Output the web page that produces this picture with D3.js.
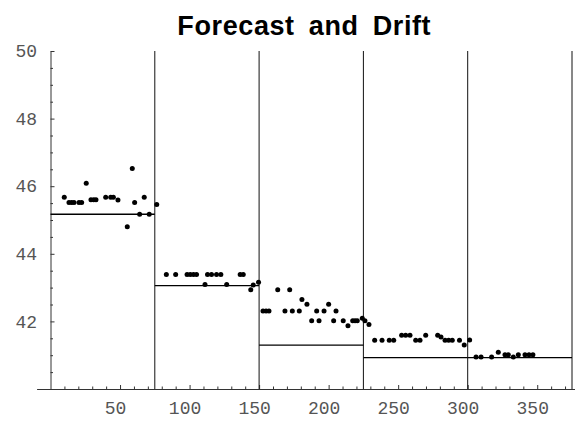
<!DOCTYPE html>
<html>
<head>
<meta charset="utf-8">
<script src="https://cdn.jsdelivr.net/npm/d3@7"></script>
<style>
  html, body { margin: 0; padding: 0; background: #fff; }
  svg { display: block; }
</style>
</head>
<body>
<svg id="chart" width="575" height="423"></svg>
<script>
// ---- data ----
const titleText = "Forecast and Drift";

// observed values: [x, value]
const segment1Points = [
  [9.9,45.67],[13.3,45.52],[15.2,45.52],[16.9,45.52],[20.5,45.52],[22.4,45.52],
  [25.7,46.09],[29.1,45.60],[31.1,45.60],[32.7,45.60],[39.7,45.67],[43.3,45.67],
  [45.2,45.67],[48.5,45.59],[55.2,44.80],[58.8,46.52],[60.5,45.52],[64.1,45.17],
  [67.4,45.67],[71.0,45.17],[76.4,45.46]
];
const segment2Points = [
  [83.3,43.39],[90.0,43.39],[98.2,43.39],[100.5,43.39],[102.8,43.39],[105.0,43.39],
  [111.1,43.09],[112.9,43.39],[115.8,43.39],[119.4,43.39],[122.5,43.39],[126.7,43.09],
  [136.4,43.39],[138.6,43.39],[144.0,42.94],[145.8,43.08],[149.6,43.16]
];
const segment3Points = [
  [152.8,42.31],[155.0,42.31],[157.1,42.31],[163.4,42.94],[168.6,42.31],[172.0,42.94],
  [173.9,42.31],[178.9,42.31],[180.8,42.65],[184.4,42.51],[187.8,42.02],[191.4,42.31],
  [193.1,42.02],[196.7,42.31],[200.0,42.51],[203.6,42.02],[205.3,42.31],[210.5,42.02],
  [213.9,41.87],[217.3,42.02],[219.0,42.02],[220.6,42.02],[224.2,42.09],[226.1,42.02],
  [229.0,41.91]
];
const segment4Points = [
  [233.1,41.44],[238.4,41.44],[243.6,41.44],[246.8,41.44],[252.5,41.59],[255.4,41.59],
  [258.5,41.59],[262.6,41.44],[265.7,41.44],[269.8,41.59],[278.4,41.59],[280.8,41.54],
  [283.7,41.44],[286.3,41.44],[288.9,41.44],[294.1,41.44],[297.5,41.30],[301.4,41.45]
];
const segment5Points = [
  [306.0,40.95],[309.6,40.95],[317.2,40.95],[322.0,41.09],[326.8,41.01],[329.2,41.01],
  [332.8,40.95],[336.4,41.01],[341.2,41.01],[344.1,41.01],[346.9,41.01]
];

// forecast levels per period: [start, end, level]
const forecastStarts = [0, 75, 150, 225, 300];
const forecastEnds   = [75, 150, 225, 300, 375];
const forecastLevels = [45.17, 43.06, 41.30, 40.93, 40.93];

// period boundaries (vertical lines)
const boundaries = [75, 150, 225, 300, 375];

// ticks
const xMajorTicks = [50, 100, 150, 200, 250, 300, 350];
const xMinorTicks = [10,20,30,40,60,70,80,90,110,120,130,140,160,170,180,190,210,220,230,240,260,270,280,290,310,320,330,340,360,370];
const yMajorTicks = [42, 44, 46, 48, 50];
const yMinorTicks = [40.5,41,41.5,42.5,43,43.5,44.5,45,45.5,46.5,47,47.5,48.5,49,49.5];

// ---- drawing ----
const svg = d3.select("#chart");
const x = d3.scaleLinear().domain([0, 375]).range([50.5, 572]);
const y = d3.scaleLinear().domain([40, 50]).range([389, 51]);
const xAxisScale = x.copy().domain([-10, 377]).range([x(-10), x(377)]);

const axisColor = "#333";
const labelFont = "'Liberation Mono', 'DejaVu Sans Mono', monospace";

// title
svg.append("text")
  .attr("x", (x(-10) + x(375)) / 2)
  .attr("y", 35)
  .attr("text-anchor", "middle")
  .attr("font-family", "'Liberation Sans', Arial, sans-serif")
  .attr("font-weight", "bold")
  .attr("font-size", 27)
  .attr("letter-spacing", 0.6)
  .attr("word-spacing", 6)
  .attr("fill", "#000")
  .text(titleText);

// x axis
const gx = svg.append("g").attr("transform", `translate(0,${y(40)})`);
gx.call(d3.axisBottom(xAxisScale).tickValues(xMajorTicks).tickSize(-4).tickSizeOuter(0).tickPadding(12));
const gxMinor = svg.append("g").attr("transform", `translate(0,${y(40)})`);
gxMinor.call(d3.axisBottom(xAxisScale).tickValues(xMinorTicks).tickSize(-2.5).tickFormat(""));
gxMinor.select(".domain").remove();

// y axis
const gy = svg.append("g").attr("transform", `translate(${x(0)},0)`);
gy.call(d3.axisLeft(y).tickValues(yMajorTicks).tickSize(-4).tickSizeOuter(0).tickPadding(13.5));
const gyMinor = svg.append("g").attr("transform", `translate(${x(0)},0)`);
gyMinor.call(d3.axisLeft(y).tickValues(yMinorTicks).tickSize(-2.5).tickFormat(""));
gyMinor.select(".domain").remove();

svg.selectAll(".domain, .tick line").attr("stroke", axisColor).attr("stroke-width", 1);
svg.selectAll(".tick text")
  .attr("font-family", labelFont)
  .attr("font-size", 18)
  .attr("fill", "#555");
gx.selectAll(".tick text").attr("dx", -5);

// vertical period boundaries
svg.append("g").selectAll("line").data(boundaries).join("line")
  .attr("x1", d => x(d)).attr("x2", d => x(d))
  .attr("y1", y(50)).attr("y2", y(40))
  .attr("stroke", "#111").attr("stroke-width", 1);

// forecast levels
svg.append("g").selectAll("line").data(forecastLevels).join("line")
  .attr("x1", (d, i) => x(forecastStarts[i]))
  .attr("x2", (d, i) => x(forecastEnds[i]))
  .attr("y1", d => y(d)).attr("y2", d => y(d))
  .attr("stroke", "#000").attr("stroke-width", 1.3);

// observations
const allPoints = [].concat(segment1Points, segment2Points, segment3Points, segment4Points, segment5Points);
svg.append("g").selectAll("circle").data(allPoints).join("circle")
  .attr("cx", d => x(d[0]))
  .attr("cy", d => y(d[1]))
  .attr("r", 2.5)
  .attr("fill", "#000");
</script>
</body>
</html>
